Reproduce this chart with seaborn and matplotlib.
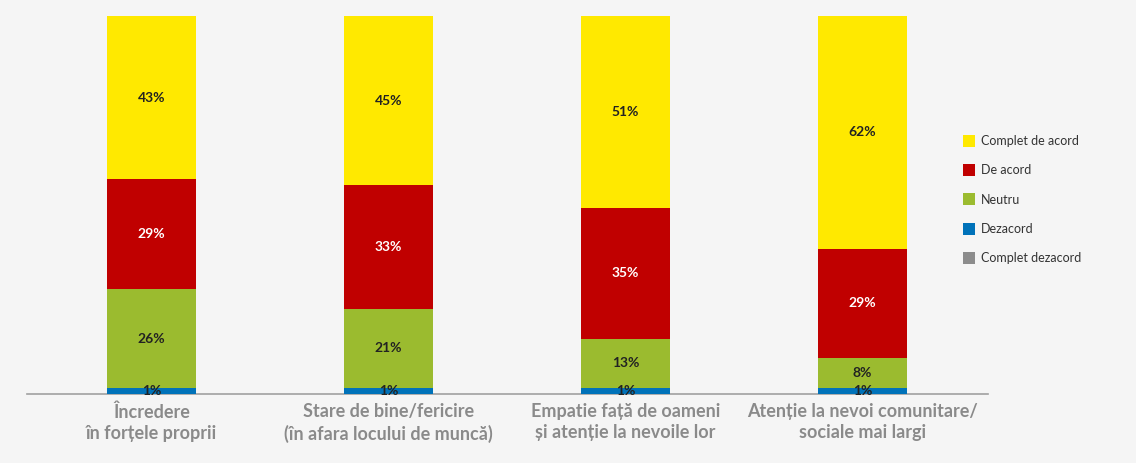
import matplotlib
matplotlib.use("Agg")
import matplotlib.pyplot as plt
import seaborn as sns
import numpy as np
import pandas as pd
from matplotlib.lines import Line2D

categories = ["Încredere\nîn forțele proprii",
              "Stare de bine/fericire\n(în afara locului de muncă)",
              "Empatie față de oameni\nși atenție la nevoile lor",
              "Atenție la nevoi comunitare/\nsociale mai largi"]
series_names = ["Complet dezacord", "Dezacord", "Neutru", "De acord", "Complet de acord"]
complet_dezacord = [0, 0, 0, 0]
dezacord = [1.49, 1.49, 1.49, 1.49]
neutru = [26, 21, 13, 8]
de_acord = [29, 33, 35, 29]
complet_de_acord = [43, 45, 51, 62]
colors = {"Complet dezacord": "#8c8c8c", "Dezacord": "#0072b9",
          "Neutru": "#9bbb2f", "De acord": "#c00000", "Complet de acord": "#ffe900"}

sns.set_theme(style="white")
plt.rcParams['font.family'] = ['Lato', 'DejaVu Sans']
bg = "#f5f5f5"

data = np.array([complet_dezacord, dezacord, neutru, de_acord, complet_de_acord], dtype=float)
totals = data.sum(axis=0)
norm = data / totals * 100
cum = np.cumsum(norm, axis=0)

W, H = 1136, 463
fig = plt.figure(figsize=(W / 100, H / 100), dpi=100, facecolor=bg)

# axis line / boundary ticks
axl = fig.add_axes([27 / W, (H - 393.5) / H, 961 / W, 377.5 / H])
axl.patch.set_visible(False)
axl.set_xlim(-0.5, 3.5)
axl.set_ylim(0, 100)
axl.set_yticks([])
for s in ["top", "right", "left"]:
    axl.spines[s].set_visible(False)
axl.spines["bottom"].set_color("#a0a0a0")
axl.spines["bottom"].set_linewidth(1.2)
axl.set_xticks(np.arange(-0.5, 4, 1))
axl.set_xticklabels([])
axl.tick_params(axis="x", length=8, width=1.2, color="#a0a0a0", direction="out")

# bars
ax = fig.add_axes([33 / W, (H - 393.5) / H, 948 / W, 377.5 / H])
ax.patch.set_visible(False)
for i in range(len(series_names) - 1, -1, -1):
    df = pd.DataFrame({"cat": categories, "val": cum[i]})
    sns.barplot(data=df, x="cat", y="val", color=colors[series_names[i]],
                width=0.375, saturation=1, ax=ax, linewidth=0, errorbar=None)

for j in range(len(categories)):
    for i in range(len(series_names)):
        v = data[i, j]
        if v <= 0:
            continue
        mid = cum[i, j] - norm[i, j] / 2
        col = "white" if series_names[i] == "De acord" else "#222222"
        ax.text(j, mid, f"{v:.0f}%", ha="center", va="center", fontsize=10,
                fontweight="bold", color=col)

ax.set_xlim(-0.5, 3.5)
ax.set_ylim(0, 100)
ax.set_xlabel("")
ax.set_ylabel("")
ax.set_yticks([])
for s in ["top", "right", "left", "bottom"]:
    ax.spines[s].set_visible(False)
ax.set_xticks(range(len(categories)))
ax.set_xticklabels(categories, fontsize=13, color="#8a8a8a", fontweight="bold",
                   linespacing=1.3)
ax.tick_params(axis="x", length=0, pad=7)

handles = [Line2D([0], [0], marker="s", linestyle="", markersize=8,
                  markerfacecolor=colors[n], markeredgewidth=0) for n in series_names[::-1]]
leg = fig.legend(handles, series_names[::-1], loc="upper left",
                 bbox_to_anchor=(950 / W, 1 - 124 / H), frameon=False,
                 fontsize=9, labelspacing=1.38, handletextpad=0.35, handlelength=1.2)
for t in leg.get_texts():
    t.set_color("#333333")

fig.savefig("out.png", dpi=100, facecolor=bg)
